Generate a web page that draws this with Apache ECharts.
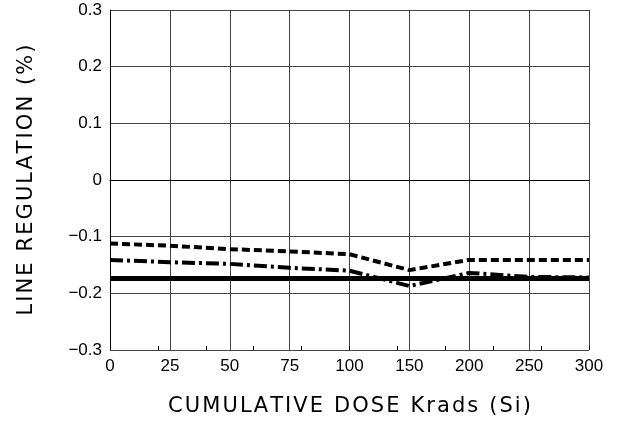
<!DOCTYPE html>
<html>
<head>
<meta charset="utf-8">
<script src="https://cdn.jsdelivr.net/npm/echarts@6/dist/echarts.min.js"></script>
<style>
  html, body { margin: 0; padding: 0; background: #fff; }
  #chart { width: 619px; height: 424px; }
</style>
</head>
<body>
<div id="chart"></div>
<script>
// dose steps (evenly spaced on the plot, not linear)
var doses = ['0', '25', '50', '75', '100', '150', '200', '250', '300'];
// line regulation (%)
var dashed  = [-0.112, -0.116, -0.122, -0.126, -0.131, -0.159, -0.141, -0.141, -0.141];
var dashDot = [-0.141, -0.145, -0.148, -0.155, -0.160, -0.187, -0.164, -0.171, -0.172];
var solid   = [-0.174, -0.174, -0.174, -0.174, -0.174, -0.174, -0.174, -0.174, -0.174];

// spread letters a bit like the plotter font
function spaced(s) { return s.split('').join('\u200A'); }

var myChart = echarts.init(document.getElementById('chart'));
var fontTitle = { fontFamily: 'DejaVu Sans', fontSize: 21, color: '#000' };

myChart.setOption({
  animation: false,
  grid: { left: 110, right: 30, top: 10, bottom: 74, containLabel: false },
  xAxis: [
    {
      type: 'category',
      data: doses,
      boundaryGap: false,
      name: spaced('CUMULATIVE DOSE Krads (Si)'),
      nameLocation: 'middle',
      nameGap: 46,
      nameTextStyle: fontTitle,
      axisLine: { lineStyle: { color: '#000', width: 1 } },
      axisTick: { show: false },
      axisLabel: { margin: 8, color: '#000', fontFamily: 'Liberation Sans', fontSize: 17 },
      splitLine: { show: true, lineStyle: { color: '#444', width: 1 } }
    },
    {
      // small ticks of the original linear scale
      type: 'value',
      min: 0, max: 300, interval: 30,
      position: 'bottom',
      axisLine: { show: false },
      axisTick: { show: true, inside: true, length: 4, lineStyle: { color: '#000' } },
      axisLabel: { show: false },
      splitLine: { show: false }
    }
  ],
  yAxis: {
    type: 'value',
    min: -0.3, max: 0.3, interval: 0.1,
    name: spaced('LINE REGULATION (%)'),
    nameLocation: 'middle',
    nameGap: 73,
    nameTextStyle: fontTitle,
    axisLine: { show: true, lineStyle: { color: '#000', width: 1 } },
    axisTick: { show: false },
    axisLabel: {
      margin: 8, color: '#000', fontFamily: 'Liberation Sans', fontSize: 17,
      formatter: function (v) {
        var r = Math.round(v * 10) / 10;
        return r === 0 ? '0' : String(r).replace('-', '\u2212');
      }
    },
    splitLine: { show: true, lineStyle: { color: '#444', width: 1 } }
  },
  series: [
    {
      name: 'dashed', type: 'line', data: dashed, symbol: 'none',
      lineStyle: { color: '#000', width: 4, type: [8, 4] }
    },
    {
      name: 'dash-dot', type: 'line', data: dashDot, symbol: 'none',
      lineStyle: { color: '#000', width: 4, type: [13, 4, 3, 4] }
    },
    {
      name: 'solid', type: 'line', data: solid, symbol: 'none',
      lineStyle: { color: '#000', width: 5 }
    }
  ]
});
</script>
</body>
</html>
